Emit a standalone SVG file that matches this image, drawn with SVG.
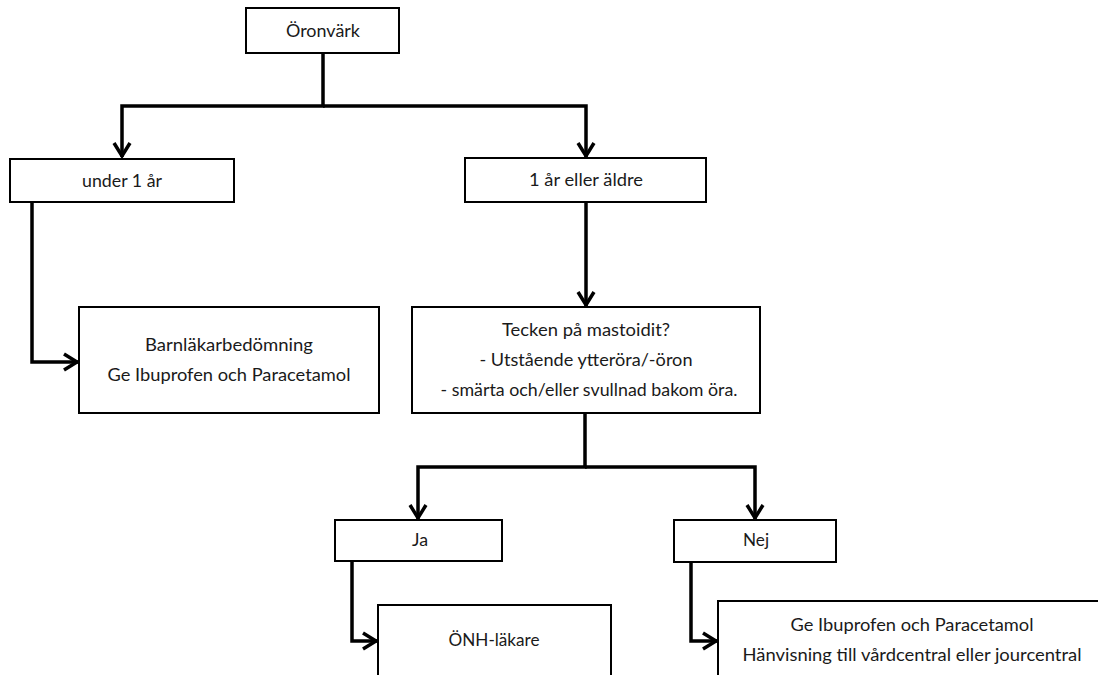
<svg xmlns="http://www.w3.org/2000/svg" width="1098" height="675" viewBox="0 0 1098 675">
<style>
.box{fill:#fff;stroke:#000;stroke-width:2}
.t{font-family:Lato,"Open Sans","Liberation Sans",sans-serif;font-size:18px;fill:#1a1a1a;text-anchor:middle}
.c{fill:none;stroke:#000;stroke-width:3.5;stroke-linejoin:miter}
</style>
<defs>
<marker id="arr" markerUnits="userSpaceOnUse" markerWidth="30" markerHeight="30" viewBox="-20 -15 30 30" refX="0" refY="0" orient="auto" overflow="visible">
<path d="M -14 -8 L -1 0 L -14 8" fill="none" stroke="#000" stroke-width="3.5"/>
</marker>
</defs>
<rect width="1098" height="675" fill="#fff"/>
<g id="connectors">
<path class="c" d="M323 53 V106 H122 V157" marker-end="url(#arr)"/>
<path class="c" d="M323 106 H586 V157" marker-end="url(#arr)"/>
<path class="c" d="M32 202 V362 H78" marker-end="url(#arr)"/>
<path class="c" d="M586 202 V306" marker-end="url(#arr)"/>
<path class="c" d="M585 413 V467 H418 V519" marker-end="url(#arr)"/>
<path class="c" d="M585 467 H755 V519" marker-end="url(#arr)"/>
<path class="c" d="M352 561 V641 H377" marker-end="url(#arr)"/>
<path class="c" d="M691 562 V641 H717" marker-end="url(#arr)"/>
</g>
<g id="n-oronvark">
<rect class="box" x="246" y="8" width="153" height="45"/>
<text class="t" x="323" y="37" textLength="74" lengthAdjust="spacingAndGlyphs">Öronvärk</text>
</g>
<g id="n-under">
<rect class="box" x="10" y="159" width="224" height="43"/>
<text class="t" x="122" y="187" textLength="80" lengthAdjust="spacingAndGlyphs">under 1 år</text>
</g>
<g id="n-aldre">
<rect class="box" x="465" y="158" width="241" height="44"/>
<text class="t" x="586" y="186" textLength="114" lengthAdjust="spacingAndGlyphs">1 år eller äldre</text>
</g>
<g id="n-barn">
<rect class="box" x="79" y="307" width="300" height="106"/>
<text class="t" x="229" y="351" textLength="168" lengthAdjust="spacingAndGlyphs">Barnläkarbedömning</text>
<text class="t" x="229" y="381" textLength="243" lengthAdjust="spacingAndGlyphs">Ge Ibuprofen och Paracetamol</text>
</g>
<g id="n-tecken">
<rect class="box" x="412" y="307" width="348" height="106"/>
<text class="t" x="586" y="336" textLength="168" lengthAdjust="spacingAndGlyphs">Tecken på mastoidit?</text>
<text class="t" x="586" y="366" textLength="213" lengthAdjust="spacingAndGlyphs">- Utstående ytteröra/-öron</text>
<text class="t" x="589" y="396" textLength="297" lengthAdjust="spacingAndGlyphs">- smärta och/eller svullnad bakom öra.</text>
</g>
<g id="n-ja">
<rect class="box" x="335" y="520" width="167" height="41"/>
<text class="t" x="420" y="546" textLength="16" lengthAdjust="spacingAndGlyphs">Ja</text>
</g>
<g id="n-nej">
<rect class="box" x="674" y="520" width="162" height="42"/>
<text class="t" x="756" y="546" textLength="26" lengthAdjust="spacingAndGlyphs">Nej</text>
</g>
<g id="n-onh">
<rect class="box" x="378" y="605" width="233" height="90"/>
<text class="t" x="494" y="646" textLength="91" lengthAdjust="spacingAndGlyphs">ÖNH-läkare</text>
</g>
<g id="n-hanvisning">
<rect class="box" x="718" y="601" width="420" height="100"/>
<text class="t" x="912" y="631" textLength="243" lengthAdjust="spacingAndGlyphs">Ge Ibuprofen och Paracetamol</text>
<text class="t" x="912" y="661" textLength="339" lengthAdjust="spacingAndGlyphs">Hänvisning till vårdcentral eller jourcentral</text>
</g>
</svg>
